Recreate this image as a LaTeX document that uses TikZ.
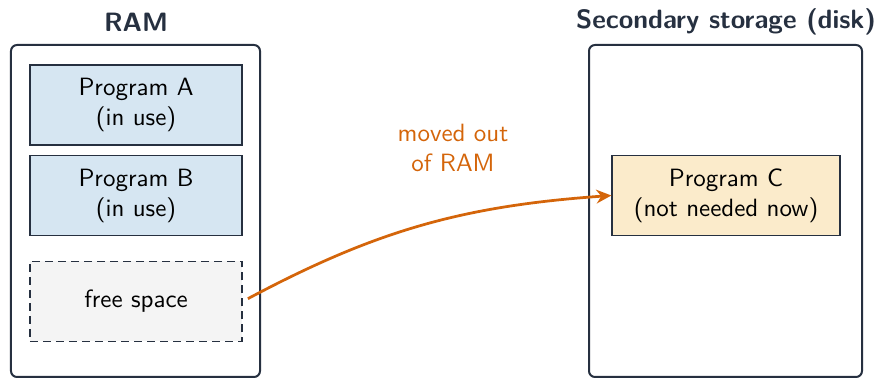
\documentclass[tikz,border=0pt]{standalone}
\usetikzlibrary{arrows.meta}
\definecolor{ink}{HTML}{263040}
\definecolor{blfill}{HTML}{D6E6F2}
\definecolor{yefill}{HTML}{FBEBCB}
\definecolor{grfill}{HTML}{F4F4F4}
\definecolor{orng}{HTML}{D4650A}
\begin{document}
\begin{tikzpicture}[x=0.4pt,y=-0.4pt,
  font=\sffamily,
  container/.style={draw=ink,line width=0.8pt,rounded corners=2.4pt,minimum width=#1,minimum height=132.8pt,inner sep=0pt},
  title/.style={text=ink,font=\fontsize{10.6pt}{12.7pt}\sffamily\bfseries},
  prog/.style={draw=ink,line width=0.5pt,fill=blfill,minimum width=84.8pt,minimum height=32pt,align=center,text=black,inner sep=0pt},
  progc/.style={prog,fill=yefill,minimum width=91.2pt},
  freebox/.style={prog,fill=grfill,dashed,dash pattern=on 3.2pt off 2pt},
  movearrow/.style={draw=orng,line width=1.1pt,-{Stealth[length=6pt,width=5.5pt]}}
]
\useasboundingbox (0,0) rectangle (875,378);
\node[container=99.6pt] (ram) at (135.5,211) {};
\node[container=109.2pt] (disk) at (725.5,211) {};
\node[title] (ramt) at (136,22) {RAM};
\node[title] (diskt) at (726,22) {Secondary storage (disk)};
\node[prog] (pa) at (136,105) {Program A\\(in use)};
\node[prog] (pb) at (136,195.5) {Program B\\(in use)};
\node[freebox] (free) at (136,301.5) {free space};
\node[progc] (pc) at (726,195.5) {Program C\\(not needed now)};
\node[text=orng,align=center] (lbl) at (453,148) {moved out\\of RAM};
\draw[movearrow,shorten <=2.4pt] (free.east) to[bend left=12] (pc.west);
\end{tikzpicture}
\end{document}
